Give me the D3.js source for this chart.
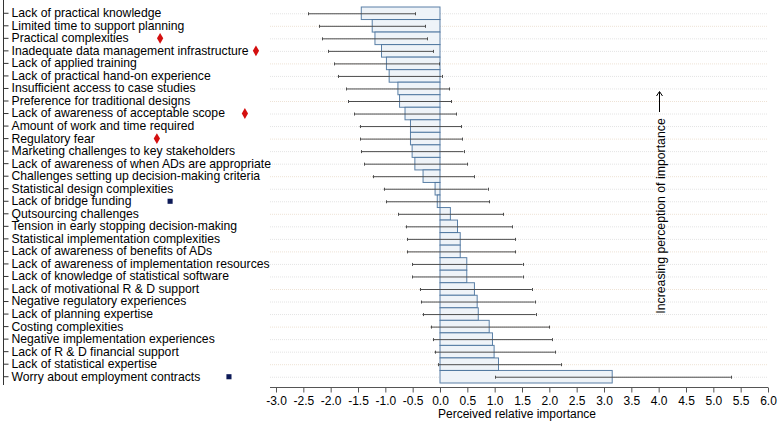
<!DOCTYPE html>
<html>
<head>
<meta charset="utf-8">
<script src="https://cdn.jsdelivr.net/npm/d3@7"></script>
<style>
  html, body { margin: 0; padding: 0; background: #fff; }
  svg { display: block; }
  text { font-family: "Liberation Sans", Arial, sans-serif; }
</style>
</head>
<body>
<svg id="chart" width="778" height="423"></svg>
<script>
const categories = [
  "Lack of practical knowledge",
  "Limited time to support planning",
  "Practical complexities",
  "Inadequate data management infrastructure",
  "Lack of applied training",
  "Lack of practical hand-on experience",
  "Insufficient access to case studies",
  "Preference for traditional designs",
  "Lack of awareness of acceptable scope",
  "Amount of work and time required",
  "Regulatory fear",
  "Marketing challenges to key stakeholders",
  "Lack of awareness of when ADs are appropriate",
  "Challenges setting up decision-making criteria",
  "Statistical design complexities",
  "Lack of bridge funding",
  "Qutsourcing challenges",
  "Tension in early stopping decision-making",
  "Statistical implementation complexities",
  "Lack of awareness of benefits of ADs",
  "Lack of awareness of implementation resources",
  "Lack of knowledge of statistical software",
  "Lack of motivational R & D support",
  "Negative regulatory experiences",
  "Lack of planning expertise",
  "Costing complexities",
  "Negative implementation experiences",
  "Lack of R & D financial support",
  "Lack of statistical expertise",
  "Worry about employment contracts"
];
const estimates = [-1.44, -1.24, -1.19, -1.07, -0.98, -0.93, -0.77, -0.74, -0.64, -0.54,
  -0.54, -0.51, -0.46, -0.31, -0.09, -0.05, 0.19, 0.32, 0.37, 0.37,
  0.49, 0.49, 0.63, 0.68, 0.70, 0.90, 0.96, 0.99, 1.07, 3.15];
const ciLow = [-2.41, -2.21, -2.16, -2.04, -1.93, -1.87, -1.72, -1.68, -1.57, -1.47,
  -1.46, -1.44, -1.39, -1.23, -1.03, -0.99, -0.76, -0.63, -0.60, -0.60,
  -0.51, -0.51, -0.37, -0.34, -0.32, -0.17, -0.12, -0.10, -0.04, 1.01];
const ciHigh = [-0.45, -0.27, -0.23, -0.12, -0.02, 0.03, 0.17, 0.21, 0.30, 0.39,
  0.41, 0.43, 0.49, 0.63, 0.87, 0.90, 1.16, 1.32, 1.37, 1.38,
  1.51, 1.51, 1.68, 1.73, 1.75, 2.00, 2.05, 2.10, 2.21, 5.32];
const xTicks = [-3.0, -2.5, -2.0, -1.5, -1.0, -0.5, 0.0, 0.5, 1.0, 1.5, 2.0, 2.5, 3.0, 3.5, 4.0, 4.5, 5.0, 5.5, 6.0];
const flagCategories = ["Practical complexities", "Inadequate data management infrastructure",
  "Lack of awareness of acceptable scope", "Regulatory fear",
  "Lack of bridge funding", "Worry about employment contracts"];
const flagKinds = ["diamond", "diamond", "diamond", "diamond", "square", "square"];
const flagColumn = [0.593, 0.948, 0.907, 0.581, 0.630, 0.848];
const xTitle = "Perceived relative importance";
const annotation = "Increasing perception of importance";

const svg = d3.select("#chart");

const x = d3.scaleLinear().domain([-3, 6]).range([276, 768]);
const y = d3.scaleBand().domain(categories).range([7, 383]).padding(0);
const labelArea = d3.scaleLinear().domain([0, 1]).range([0, 270]);

const rows = categories.map((c, i) => ({ c, v: estimates[i], lo: ciLow[i], hi: ciHigh[i] }));

// grid lines
svg.append("g").selectAll("line").data(categories).join("line")
  .attr("x1", 270).attr("x2", 768)
  .attr("y1", d => y(d) + y.bandwidth() / 2 + 0.5)
  .attr("y2", d => y(d) + y.bandwidth() / 2 + 0.5)
  .attr("stroke", (d, i) => i % 3 === 1 ? "#eee3d6" : "#e4e4e4")
  .attr("stroke-width", 1)
  .attr("stroke-dasharray", "1,1");

// bars
svg.append("g").selectAll("rect").data(rows).join("rect")
  .attr("x", d => x(Math.min(0, d.v)))
  .attr("width", d => Math.abs(x(d.v) - x(0)))
  .attr("y", d => y(d.c))
  .attr("height", y.bandwidth())
  .attr("fill", "#eef3f8")
  .attr("stroke", "#3f6b98")
  .attr("stroke-opacity", 0.85)
  .attr("stroke-width", 1);

// error bars
const eb = svg.append("g").attr("stroke", "#4d4d4d").attr("stroke-width", 1);
eb.selectAll("line.ci").data(rows).join("line").attr("class", "ci")
  .attr("x1", d => x(d.lo)).attr("x2", d => x(d.hi))
  .attr("y1", d => y(d.c) + y.bandwidth() / 2 + 0.5)
  .attr("y2", d => y(d.c) + y.bandwidth() / 2 + 0.5);
["lo", "hi"].forEach(k => {
  eb.selectAll("line.cap" + k).data(rows).join("line").attr("class", "cap" + k)
    .attr("x1", d => Math.round(x(d[k])) + 0.5).attr("x2", d => Math.round(x(d[k])) + 0.5)
    .attr("y1", d => y(d.c) + y.bandwidth() / 2 - 1)
    .attr("y2", d => y(d.c) + y.bandwidth() / 2 + 2);
});

// left axis
const yAxisG = svg.append("g").attr("transform", "translate(3.5,0)")
  .call(d3.axisRight(y).tickSize(5).tickPadding(3).tickSizeOuter(0));
yAxisG.select(".domain").attr("stroke", "#333").attr("d", "M0,0V385");
yAxisG.selectAll(".tick line").attr("stroke", "#333");
yAxisG.selectAll(".tick text").attr("font-size", 12.2).attr("fill", "#000")
  .attr("font-family", "'Liberation Sans', Arial, sans-serif");

// flags
const flags = flagCategories.map((c, i) => ({ c, k: flagKinds[i], p: flagColumn[i] }));
svg.append("g").selectAll("path").data(flags).join("path")
  .attr("transform", d => `translate(${labelArea(d.p)},${y(d.c) + y.bandwidth() / 2})`)
  .attr("d", d => d.k === "diamond"
    ? d3.symbol(d3.symbolDiamond, 34)()
    : d3.symbol(d3.symbolSquare, 26)())
  .attr("fill", d => d.k === "diamond" ? "#d40f0f" : "#0d1a57");

// x axis
const xAxisG = svg.append("g").attr("transform", "translate(0,387.5)")
  .call(d3.axisBottom(x).tickValues(xTicks).tickFormat(d3.format(".1f")).tickSize(5).tickPadding(4).tickSizeOuter(0));
xAxisG.select(".domain").attr("stroke", "#555").attr("d", "M270,0H768");
xAxisG.selectAll(".tick line").attr("stroke", "#555");
xAxisG.selectAll(".tick text").attr("font-size", 12).attr("fill", "#000")
  .attr("font-family", "'Liberation Sans', Arial, sans-serif")
  .text(d => d3.format(".1f")(d).replace("−", "-"));

svg.append("text")
  .attr("x", (x(-3) + x(6)) / 2 - 5).attr("y", 418)
  .attr("text-anchor", "middle").attr("font-size", 12).attr("fill", "#000")
  .text(xTitle);

// annotation
const ax = Math.round(x(4.0)) + 0.5, ay = 216;
svg.append("text")
  .attr("transform", `translate(${ax + 5},${ay}) rotate(-90)`)
  .attr("text-anchor", "middle").attr("font-size", 12.3).attr("fill", "#000")
  .text(annotation);
svg.append("line").attr("x1", ax).attr("x2", ax).attr("y1", 112).attr("y2", 92)
  .attr("stroke", "#000").attr("stroke-width", 1);
svg.append("path").attr("d", `M${ax - 3},${96} L${ax},${91.5} L${ax + 3},${96}`)
  .attr("fill", "none").attr("stroke", "#000").attr("stroke-width", 1);
</script>
</body>
</html>
